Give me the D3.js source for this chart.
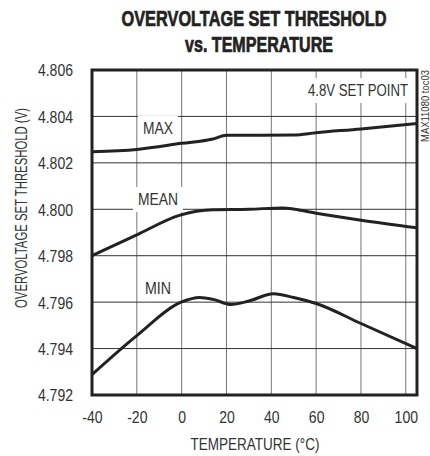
<!DOCTYPE html>
<html>
<head>
<meta charset="utf-8">
<script src="https://cdn.jsdelivr.net/npm/d3@7"></script>
<style>
body { margin: 0; background: #fff; }
text { font-family: "Liberation Sans", Arial, sans-serif; fill: #333; }
</style>
</head>
<body>
<svg width="430" height="456"></svg>
<script>
var width = 430, height = 456;

// data
var maxTemp = [-40, -20, 0, 14, 20, 35, 50, 60, 80, 105];
var maxVals = [4.80248, 4.80258, 4.80284, 4.80303, 4.80319, 4.80319, 4.80320, 4.80330, 4.80346, 4.80370];

var meanTemp = [-40, -20, -1, 14, 30, 45, 60, 80, 105];
var meanVals = [4.79800, 4.79890, 4.79974, 4.79998, 4.80000, 4.80006, 4.79983, 4.79953, 4.79920];

var minTemp = [-40, -20, 0, 8, 14, 22, 30, 41, 50, 60, 80, 105];
var minVals = [4.79288, 4.79456, 4.79601, 4.79620, 4.79612, 4.79590, 4.79605, 4.79636, 4.79620, 4.79594, 4.79508, 4.79400];

var xTicks = [-40, -20, 0, 20, 40, 60, 80, 100];
var yTicks = [4.792, 4.794, 4.796, 4.798, 4.800, 4.802, 4.804, 4.806];

var pLeft = 92, pRight = 417, pTop = 70, pBottom = 395;

var svg = d3.select("svg");

var x = d3.scaleLinear().domain([-40, 105]).range([pLeft, pRight]);
var y = d3.scaleLinear().domain([4.792, 4.806]).range([pBottom, pTop]);

// squeeze text horizontally to look like a narrow face
var narrow = function(sel, k) {
	sel.each(function() {
		var len = this.getComputedTextLength();
		d3.select(this).attr("textLength", len * (k || 0.82)).attr("lengthAdjust", "spacingAndGlyphs");
	});
};
var fit = function(sel, w) {
	sel.attr("textLength", w).attr("lengthAdjust", "spacingAndGlyphs");
};

// title
svg.append("text").attr("x", 254).attr("y", 26).attr("text-anchor", "middle")
	.style("font-weight", "bold").style("font-size", "22px").style("fill", "#222")
	.style("stroke", "#222").style("stroke-width", 0.7)
	.text("OVERVOLTAGE SET THRESHOLD").call(fit, 265);
svg.append("text").attr("x", 259).attr("y", 52).attr("text-anchor", "middle")
	.style("font-weight", "bold").style("font-size", "22px").style("fill", "#222")
	.style("stroke", "#222").style("stroke-width", 0.7)
	.text("vs. TEMPERATURE").call(fit, 148);

// grid
svg.append("g").selectAll("line").data(xTicks.slice(1)).enter().append("line")
	.attr("x1", function(d) { return x(d); }).attr("x2", function(d) { return x(d); })
	.attr("y1", pTop).attr("y2", pBottom)
	.attr("stroke", "#777").attr("stroke-width", 1);
svg.append("g").selectAll("line").data(yTicks.slice(1, -1)).enter().append("line")
	.attr("y1", function(d) { return y(d); }).attr("y2", function(d) { return y(d); })
	.attr("x1", pLeft).attr("x2", pRight)
	.attr("stroke", "#333").attr("stroke-width", 1);

// axes labels
var xAxis = d3.axisBottom(x).tickValues(xTicks).tickSize(0).tickPadding(0)
	.tickFormat(function(d) { return String(d); });
var gx = svg.append("g").attr("transform", "translate(0," + pBottom + ")").call(xAxis);
gx.select(".domain").remove();
gx.attr("font-family", null).attr("font-size", null);
gx.selectAll("text").attr("dy", null).attr("y", 28).attr("fill", null).style("font-size", "16.5px")
	.call(narrow, 0.85);

var yAxis = d3.axisLeft(y).tickValues(yTicks).tickSize(0).tickPadding(0).tickFormat(d3.format(".3f"));
var gy = svg.append("g").attr("transform", "translate(73,0)").call(yAxis);
gy.select(".domain").remove();
gy.attr("font-family", null).attr("font-size", null);
gy.selectAll("text").attr("dy", "0.36em").attr("fill", null).style("font-size", "16.5px")
	.call(narrow, 0.85);

svg.append("text").attr("x", 255).attr("y", 450).attr("text-anchor", "middle")
	.style("font-size", "16.5px").text("TEMPERATURE (°C)").call(fit, 129);
svg.append("text").attr("transform", "translate(27,208) rotate(-90)").attr("text-anchor", "middle")
	.style("font-size", "16.5px").text("OVERVOLTAGE SET THRESHOLD (V)").call(fit, 200);

// curves
var line = d3.line()
	.x(function(d) { return x(d[0]); })
	.y(function(d) { return y(d[1]); })
	.curve(d3.curveMonotoneX);

[[maxTemp, maxVals], [meanTemp, meanVals], [minTemp, minVals]].forEach(function(s) {
	svg.append("path").datum(d3.zip(s[0], s[1]))
		.attr("d", line).attr("fill", "none")
		.attr("stroke", "#222").attr("stroke-width", 3);
});

// series labels, white box behind so the grid breaks round them
var labelBox = function(tx, ty, txt, anchor, w) {
	var t = svg.append("text").attr("x", tx).attr("y", ty).attr("text-anchor", anchor)
		.style("font-size", "17px").text(txt).call(fit, w);
	var b = t.node().getBBox();
	svg.insert("rect", function() { return t.node(); })
		.attr("x", b.x - 5).attr("y", b.y - 3).attr("width", b.width + 10).attr("height", b.height + 6)
		.attr("fill", "#fff");
};
labelBox(158, 134, "MAX", "middle", 30);
labelBox(158, 205, "MEAN", "middle", 40);
labelBox(158, 294, "MIN", "middle", 26);
labelBox(408, 96, "4.8V SET POINT", "end", 100);

// frame
svg.append("rect").attr("x", pLeft).attr("y", pTop).attr("width", pRight - pLeft).attr("height", pBottom - pTop)
	.attr("fill", "none").attr("stroke", "#222").attr("stroke-width", 3);

svg.append("text").attr("transform", "translate(429,70) rotate(-90)").attr("text-anchor", "end")
	.style("font-size", "11px").text("MAX11080 toc03").call(fit, 72);
</script>
</body>
</html>
